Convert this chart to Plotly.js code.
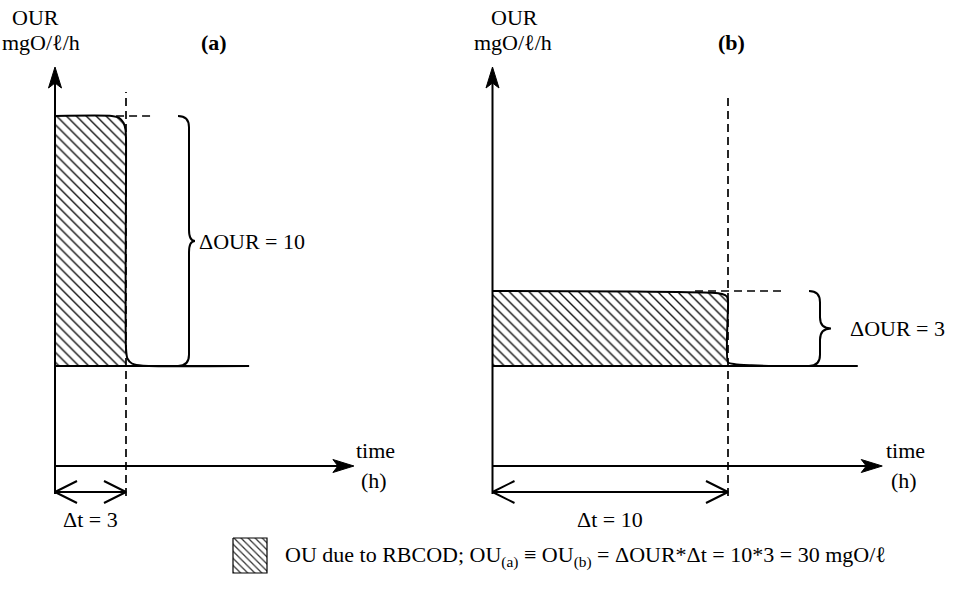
<!DOCTYPE html>
<html>
<head>
<meta charset="utf-8">
<script src="https://cdn.plot.ly/plotly-3.0.1.min.js"></script>
<style>html,body{margin:0;padding:0;background:#fff;}#chart{width:968px;height:616px;}</style>
</head>
<body>
<div id="chart"></div>
<script>
// ---------------- data ----------------
const panelLabels = ['(a)', '(b)'];
const deltaT = [3, 10];            // h
const deltaOUR = [10, 3];          // mgO/l/h
const baseOUR = 4;                 // endogenous OUR level (schematic units)
const baselineEnd = [8.2, 15.5];   // h, end of drawn baseline
const timeAxisEnd = [12.63, 16.55];// h
// OUR response curves
const timeA = [0, 2.4, 2.72, 2.9, 2.98, 3.0, 3.0, 3.06, 3.25, 3.55, 3.95, 8.2];
const ourA  = [14, 14, 13.92, 13.72, 13.45, 13.1, 4.7, 4.3, 4.1, 4.03, 4.0, 4.0];
const timeB = [0, 6, 9.3, 9.75, 9.95, 10.0, 10.0, 10.3, 11.0, 12.0, 15.5];
const ourB  = [7, 6.98, 6.93, 6.88, 6.78, 6.6, 4.15, 4.07, 4.03, 4.0, 4.0];
const deltaOURLabels = ['ΔOUR = 10', 'ΔOUR = 3'];
const deltaTLabels = ['Δt = 3', 'Δt = 10'];
const yLabel = ['OUR', 'mgO/ℓ/h'];
const xLabel = ['time', '(h)'];
const legendText = 'OU due to RBCOD; OU<sub>(a)</sub> ≡ OU<sub>(b)</sub> = ΔOUR*Δt = 10*3 = 30 mgO/ℓ';

// ---------------- layout geometry (pixels) ----------------
const W = 968, H = 616;
const FONT = 'Liberation Serif, Times New Roman, serif';
const y0px = 466, kY = 25;                 // OUR=0 at y pixel 466, 25 px per unit
const origin = [55, 492.5];                // time 0 pixel for each panel
const kX = [(126 - 55) / 3, (728 - 492.5) / 10];
const split = 0.46;
const domains = [[0, split], [split, 1]];
function xRange(i) {
  const d0 = domains[i][0] * W, d1 = domains[i][1] * W;
  return [(d0 - origin[i]) / kX[i], (d1 - origin[i]) / kX[i]];
}
const yRange = [-(H - y0px) / kY, y0px / kY];
const pxY = p => (y0px - p) / kY;            // pixel -> OUR
const pxX = (i, p) => (p - origin[i]) / kX[i];

const curves = [[timeA, ourA], [timeB, ourB]];
const axNames = ['x', 'x2'];
const traces = [];
const shapes = [];
const annotations = [];
const txt = (size, weight) => ({family: FONT, size: size, color: '#000', weight: weight || 'normal'});

for (let i = 0; i < 2; i++) {
  const xa = axNames[i];
  const [tt, oo] = curves[i];
  const peak = baseOUR + deltaOUR[i];
  // hatched area (OU due to RBCOD): response up to deltaT
  const hx = [0], hy = [baseOUR];
  for (let k = 0; k < tt.length; k++) {
    if (tt[k] <= deltaT[i] && !(tt[k] === deltaT[i] && oo[k] < peak - 3)) { hx.push(tt[k]); hy.push(oo[k]); }
  }
  hx.push(deltaT[i], 0); hy.push(baseOUR, baseOUR);
  traces.push({x: hx, y: hy, xaxis: xa, yaxis: 'y', mode: 'lines', fill: 'toself',
    fillcolor: 'white', line: {width: 0, color: 'rgba(0,0,0,0)'},
    fillpattern: {shape: '\\', size: 7, solidity: 0.2, fgcolor: '#111', bgcolor: 'white'},
    hoverinfo: 'skip', showlegend: false});
  // response curve
  traces.push({x: tt, y: oo, xaxis: xa, yaxis: 'y', mode: 'lines',
    line: {color: '#000', width: 2, shape: 'spline', smoothing: 0.6}, hoverinfo: 'skip', showlegend: false});
  // baseline
  traces.push({x: [0, baselineEnd[i]], y: [baseOUR, baseOUR], xaxis: xa, yaxis: 'y', mode: 'lines',
    line: {color: '#000', width: 2}, hoverinfo: 'skip', showlegend: false});
  // dashed guide lines
  const dtTop = pxY(i === 0 ? 92 : 96);
  const dBelow = pxY(496);
  const hEnd = pxX(i, i === 0 ? 153 : 785);
  traces.push({x: [deltaT[i], deltaT[i], null, deltaT[i] * 0.86, hEnd], y: [dBelow, dtTop, null, peak, peak],
    xaxis: xa, yaxis: 'y', mode: 'lines', line: {color: '#000', width: 1.7, dash: '8px,5px'},
    hoverinfo: 'skip', showlegend: false});
  // axes lines
  const yTip = pxY(67), yBot = pxY(494);
  const xTip = timeAxisEnd[i];
  traces.push({x: [0, 0, null, 0, xTip - 8 / kX[i]], y: [yBot, yTip - 8 / kY, null, 0, 0],
    xaxis: xa, yaxis: 'y', mode: 'lines', line: {color: '#000', width: 2}, hoverinfo: 'skip', showlegend: false});
  // arrowheads (filled, notched)
  const L = 21, Wd = 6.5, N = 5;
  traces.push({x: [0, -Wd / kX[i], 0, Wd / kX[i], 0], y: [yTip, yTip - L / kY, yTip - (L - N) / kY, yTip - L / kY, yTip],
    xaxis: xa, yaxis: 'y', mode: 'lines', fill: 'toself', fillcolor: '#000', line: {color: '#000', width: 1},
    hoverinfo: 'skip', showlegend: false});
  traces.push({x: [xTip, xTip - L / kX[i], xTip - (L - N) / kX[i], xTip - L / kX[i], xTip], y: [0, Wd / kY, 0, -Wd / kY, 0],
    xaxis: xa, yaxis: 'y', mode: 'lines', fill: 'toself', fillcolor: '#000', line: {color: '#000', width: 1},
    hoverinfo: 'skip', showlegend: false});
  // delta t double arrow
  const ya = pxY(492), hdx = 22 / kX[i], hdy = 11 / kY;
  traces.push({x: [0, deltaT[i], null, hdx, 0, hdx, null, deltaT[i] - hdx, deltaT[i], deltaT[i] - hdx],
    y: [ya, ya, null, ya + hdy, ya, ya - hdy, null, ya + hdy, ya, ya - hdy],
    xaxis: xa, yaxis: 'y', mode: 'lines', line: {color: '#000', width: 2}, hoverinfo: 'skip', showlegend: false});
  // brace
  const bx = i === 0 ? [pxX(0, 178), pxX(0, 189), pxX(0, 195)] : [pxX(1, 809), pxX(1, 820), pxX(1, 831)];
  const r = 0.45, yb0 = baseOUR, yb1 = peak, ym = (yb0 + yb1) / 2;
  const path = `M${bx[0]},${yb1} Q${bx[1]},${yb1} ${bx[1]},${yb1 - r} L${bx[1]},${ym + r} Q${bx[1]},${ym} ${bx[2]},${ym} ` +
               `Q${bx[1]},${ym} ${bx[1]},${ym - r} L${bx[1]},${yb0 + r} Q${bx[1]},${yb0} ${bx[0]},${yb0}`;
  shapes.push({type: 'path', xref: xa, yref: 'y', path: path, line: {color: '#000', width: 2}});
  // texts
  const dTextX = i === 0 ? 197 : 848;
  annotations.push({xref: 'paper', yref: 'y', x: dTextX / W, y: ym, text: deltaOURLabels[i], showarrow: false,
    xanchor: 'left', yanchor: 'middle', font: txt(22)});
  annotations.push({xref: xa, yref: 'y', x: deltaT[i] / 2, y: pxY(519), text: deltaTLabels[i], showarrow: false,
    xanchor: 'center', yanchor: 'middle', font: txt(22)});
  const labX = i === 0 ? [35, 41] : [514, 513];
  annotations.push({xref: 'paper', yref: 'paper', x: labX[0] / W, y: 1 - 17 / H, text: yLabel[0], showarrow: false,
    xanchor: 'center', yanchor: 'middle', font: txt(22)});
  annotations.push({xref: 'paper', yref: 'paper', x: labX[1] / W, y: 1 - 43 / H, text: yLabel[1], showarrow: false,
    xanchor: 'center', yanchor: 'middle', font: txt(22)});
  const plX = i === 0 ? 214 : 731;
  annotations.push({xref: 'paper', yref: 'paper', x: plX / W, y: 1 - 43 / H, text: panelLabels[i], showarrow: false,
    xanchor: 'center', yanchor: 'middle', font: txt(22, 'bold')});
  const tX = i === 0 ? 375 : 905;
  annotations.push({xref: 'paper', yref: 'paper', x: tX / W, y: 1 - 451 / H, text: xLabel[0], showarrow: false,
    xanchor: 'center', yanchor: 'middle', font: txt(22)});
  annotations.push({xref: 'paper', yref: 'paper', x: (tX - 1) / W, y: 1 - 480 / H, text: xLabel[1], showarrow: false,
    xanchor: 'center', yanchor: 'middle', font: txt(22)});
}

// legend key box (hatched) drawn in pixel space
traces.push({x: [233, 267, 267, 233, 233], y: [538, 538, 573, 573, 538], xaxis: 'x3', yaxis: 'y3',
  mode: 'lines', fill: 'toself', fillcolor: 'white', line: {color: '#000', width: 1.2},
  fillpattern: {shape: '\\', size: 5, solidity: 0.25, fgcolor: '#333', bgcolor: 'white'},
  hoverinfo: 'skip', showlegend: false});
annotations.push({xref: 'paper', yref: 'paper', x: 283 / W, y: 1 - 556 / H, text: legendText, showarrow: false,
  xanchor: 'left', yanchor: 'middle', font: txt(22)});

const hidden = {visible: false, fixedrange: true};
const layout = {
  width: W, height: H, margin: {l: 0, r: 0, t: 0, b: 0},
  paper_bgcolor: 'white', plot_bgcolor: 'rgba(0,0,0,0)', showlegend: false,
  xaxis: Object.assign({domain: domains[0], range: xRange(0), anchor: 'y'}, hidden),
  xaxis2: Object.assign({domain: domains[1], range: xRange(1), anchor: 'y'}, hidden),
  yaxis: Object.assign({domain: [0, 1], range: yRange, anchor: 'x'}, hidden),
  xaxis3: Object.assign({domain: [0, 1], range: [0, W], anchor: 'y3'}, hidden),
  yaxis3: Object.assign({domain: [0, 1], range: [H, 0], anchor: 'x3'}, hidden),
  shapes: shapes, annotations: annotations
};
Plotly.newPlot('chart', traces, layout, {staticPlot: true, displayModeBar: false});
</script>
</body>
</html>
